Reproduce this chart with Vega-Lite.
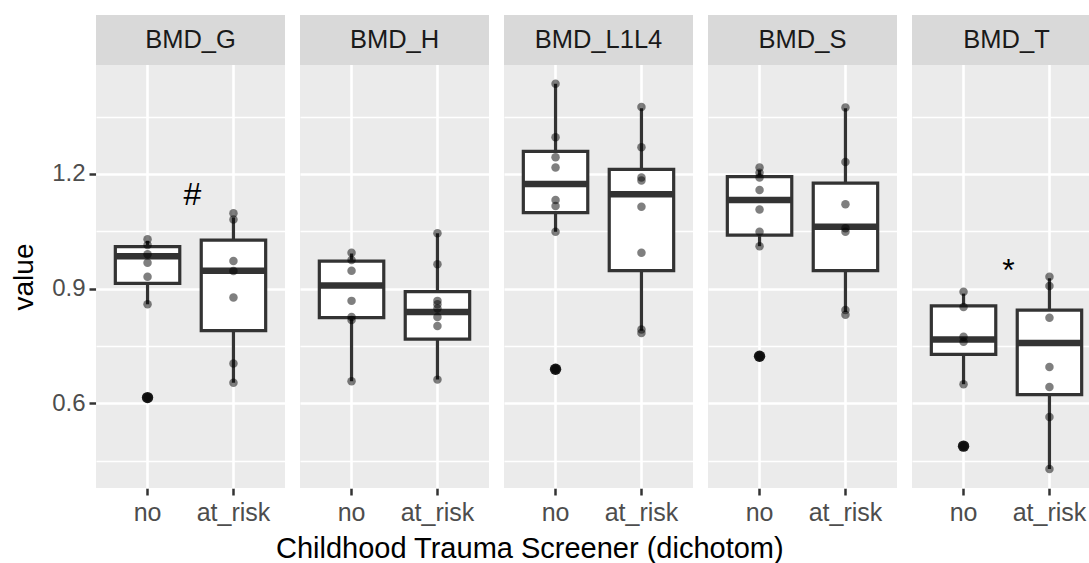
{
  "$schema": "https://vega.github.io/schema/vega-lite/v6.json",
  "padding": {"left": 10, "top": 15, "right": 0, "bottom": 2},
  "title": {"text": "Childhood Trauma Screener (dichotom)", "orient": "bottom", "anchor": "middle", "fontSize": 29, "fontWeight": "normal", "color": "black", "font": "Liberation Sans", "offset": 10, "dx": -26},
  "data": {"values": [
    {"kind": "strip", "panel": "BMD_G"}, {"kind": "strip", "panel": "BMD_H"}, {"kind": "strip", "panel": "BMD_L1L4"}, {"kind": "strip", "panel": "BMD_S"}, {"kind": "strip", "panel": "BMD_T"},
    {"kind": "box", "panel": "BMD_G", "group": "no", "lo": 0.859, "q1": 0.914, "med": 0.985, "q3": 1.010, "hi": 1.025},
    {"kind": "box", "panel": "BMD_G", "group": "at_risk", "lo": 0.654, "q1": 0.790, "med": 0.947, "q3": 1.027, "hi": 1.086},
    {"kind": "box", "panel": "BMD_H", "group": "no", "lo": 0.658, "q1": 0.824, "med": 0.908, "q3": 0.972, "hi": 0.992},
    {"kind": "box", "panel": "BMD_H", "group": "at_risk", "lo": 0.662, "q1": 0.768, "med": 0.839, "q3": 0.892, "hi": 1.045},
    {"kind": "box", "panel": "BMD_L1L4", "group": "no", "lo": 1.049, "q1": 1.099, "med": 1.174, "q3": 1.259, "hi": 1.436},
    {"kind": "box", "panel": "BMD_L1L4", "group": "at_risk", "lo": 0.790, "q1": 0.947, "med": 1.147, "q3": 1.212, "hi": 1.372},
    {"kind": "box", "panel": "BMD_S", "group": "no", "lo": 1.011, "q1": 1.040, "med": 1.132, "q3": 1.193, "hi": 1.210},
    {"kind": "box", "panel": "BMD_S", "group": "at_risk", "lo": 0.839, "q1": 0.947, "med": 1.062, "q3": 1.176, "hi": 1.372},
    {"kind": "box", "panel": "BMD_T", "group": "no", "lo": 0.650, "q1": 0.728, "med": 0.767, "q3": 0.855, "hi": 0.887},
    {"kind": "box", "panel": "BMD_T", "group": "at_risk", "lo": 0.428, "q1": 0.623, "med": 0.758, "q3": 0.844, "hi": 0.927},
    {"kind": "out", "panel": "BMD_G", "group": "no", "value": 0.615},
    {"kind": "out", "panel": "BMD_L1L4", "group": "no", "value": 0.689},
    {"kind": "out", "panel": "BMD_S", "group": "no", "value": 0.723},
    {"kind": "out", "panel": "BMD_T", "group": "no", "value": 0.488},
    {"kind": "pt", "panel": "BMD_G", "group": "no", "value": 1.029},
    {"kind": "pt", "panel": "BMD_G", "group": "no", "value": 1.014},
    {"kind": "pt", "panel": "BMD_G", "group": "no", "value": 0.990},
    {"kind": "pt", "panel": "BMD_G", "group": "no", "value": 0.968},
    {"kind": "pt", "panel": "BMD_G", "group": "no", "value": 0.931},
    {"kind": "pt", "panel": "BMD_G", "group": "no", "value": 0.859},
    {"kind": "pt", "panel": "BMD_G", "group": "at_risk", "value": 1.097},
    {"kind": "pt", "panel": "BMD_G", "group": "at_risk", "value": 1.081},
    {"kind": "pt", "panel": "BMD_G", "group": "at_risk", "value": 0.972},
    {"kind": "pt", "panel": "BMD_G", "group": "at_risk", "value": 0.946},
    {"kind": "pt", "panel": "BMD_G", "group": "at_risk", "value": 0.877},
    {"kind": "pt", "panel": "BMD_G", "group": "at_risk", "value": 0.704},
    {"kind": "pt", "panel": "BMD_G", "group": "at_risk", "value": 0.654},
    {"kind": "pt", "panel": "BMD_H", "group": "no", "value": 0.994},
    {"kind": "pt", "panel": "BMD_H", "group": "no", "value": 0.975},
    {"kind": "pt", "panel": "BMD_H", "group": "no", "value": 0.947},
    {"kind": "pt", "panel": "BMD_H", "group": "no", "value": 0.868},
    {"kind": "pt", "panel": "BMD_H", "group": "no", "value": 0.826},
    {"kind": "pt", "panel": "BMD_H", "group": "no", "value": 0.818},
    {"kind": "pt", "panel": "BMD_H", "group": "no", "value": 0.658},
    {"kind": "pt", "panel": "BMD_H", "group": "at_risk", "value": 1.045},
    {"kind": "pt", "panel": "BMD_H", "group": "at_risk", "value": 0.964},
    {"kind": "pt", "panel": "BMD_H", "group": "at_risk", "value": 0.868},
    {"kind": "pt", "panel": "BMD_H", "group": "at_risk", "value": 0.859},
    {"kind": "pt", "panel": "BMD_H", "group": "at_risk", "value": 0.848},
    {"kind": "pt", "panel": "BMD_H", "group": "at_risk", "value": 0.826},
    {"kind": "pt", "panel": "BMD_H", "group": "at_risk", "value": 0.802},
    {"kind": "pt", "panel": "BMD_H", "group": "at_risk", "value": 0.662},
    {"kind": "pt", "panel": "BMD_L1L4", "group": "no", "value": 1.436},
    {"kind": "pt", "panel": "BMD_L1L4", "group": "no", "value": 1.296},
    {"kind": "pt", "panel": "BMD_L1L4", "group": "no", "value": 1.244},
    {"kind": "pt", "panel": "BMD_L1L4", "group": "no", "value": 1.217},
    {"kind": "pt", "panel": "BMD_L1L4", "group": "no", "value": 1.132},
    {"kind": "pt", "panel": "BMD_L1L4", "group": "no", "value": 1.116},
    {"kind": "pt", "panel": "BMD_L1L4", "group": "no", "value": 1.049},
    {"kind": "pt", "panel": "BMD_L1L4", "group": "at_risk", "value": 1.375},
    {"kind": "pt", "panel": "BMD_L1L4", "group": "at_risk", "value": 1.270},
    {"kind": "pt", "panel": "BMD_L1L4", "group": "at_risk", "value": 1.191},
    {"kind": "pt", "panel": "BMD_L1L4", "group": "at_risk", "value": 1.183},
    {"kind": "pt", "panel": "BMD_L1L4", "group": "at_risk", "value": 1.114},
    {"kind": "pt", "panel": "BMD_L1L4", "group": "at_risk", "value": 0.994},
    {"kind": "pt", "panel": "BMD_L1L4", "group": "at_risk", "value": 0.793},
    {"kind": "pt", "panel": "BMD_L1L4", "group": "at_risk", "value": 0.784},
    {"kind": "pt", "panel": "BMD_S", "group": "no", "value": 1.217},
    {"kind": "pt", "panel": "BMD_S", "group": "no", "value": 1.203},
    {"kind": "pt", "panel": "BMD_S", "group": "no", "value": 1.191},
    {"kind": "pt", "panel": "BMD_S", "group": "no", "value": 1.158},
    {"kind": "pt", "panel": "BMD_S", "group": "no", "value": 1.107},
    {"kind": "pt", "panel": "BMD_S", "group": "no", "value": 1.049},
    {"kind": "pt", "panel": "BMD_S", "group": "no", "value": 1.011},
    {"kind": "pt", "panel": "BMD_S", "group": "at_risk", "value": 1.374},
    {"kind": "pt", "panel": "BMD_S", "group": "at_risk", "value": 1.231},
    {"kind": "pt", "panel": "BMD_S", "group": "at_risk", "value": 1.121},
    {"kind": "pt", "panel": "BMD_S", "group": "at_risk", "value": 1.058},
    {"kind": "pt", "panel": "BMD_S", "group": "at_risk", "value": 1.049},
    {"kind": "pt", "panel": "BMD_S", "group": "at_risk", "value": 0.844},
    {"kind": "pt", "panel": "BMD_S", "group": "at_risk", "value": 0.832},
    {"kind": "pt", "panel": "BMD_T", "group": "no", "value": 0.892},
    {"kind": "pt", "panel": "BMD_T", "group": "no", "value": 0.852},
    {"kind": "pt", "panel": "BMD_T", "group": "no", "value": 0.774},
    {"kind": "pt", "panel": "BMD_T", "group": "no", "value": 0.761},
    {"kind": "pt", "panel": "BMD_T", "group": "no", "value": 0.650},
    {"kind": "pt", "panel": "BMD_T", "group": "at_risk", "value": 0.931},
    {"kind": "pt", "panel": "BMD_T", "group": "at_risk", "value": 0.907},
    {"kind": "pt", "panel": "BMD_T", "group": "at_risk", "value": 0.824},
    {"kind": "pt", "panel": "BMD_T", "group": "at_risk", "value": 0.695},
    {"kind": "pt", "panel": "BMD_T", "group": "at_risk", "value": 0.643},
    {"kind": "pt", "panel": "BMD_T", "group": "at_risk", "value": 0.564},
    {"kind": "pt", "panel": "BMD_T", "group": "at_risk", "value": 0.428},
    {"kind": "ann", "panel": "BMD_G", "group": "at_risk", "value": 1.145, "label": "#"},
    {"kind": "ann", "panel": "BMD_T", "group": "at_risk", "value": 0.945, "label": "*"}
  ]},
  "facet": {"column": {"field": "panel", "type": "nominal", "sort": ["BMD_G", "BMD_H", "BMD_L1L4", "BMD_S", "BMD_T"], "header": null, "title": null}},
  "spacing": 15,
  "spec": {
    "width": 189,
    "height": 473,
    "layer": [
      {
        "transform": [{"filter": "datum.kind == 'box'"}],
        "mark": {"type": "rule", "color": "#333333", "strokeWidth": 3.2},
        "encoding": {
          "x": {"field": "group", "type": "nominal", "sort": ["no", "at_risk"], "title": null, "axis": {"grid": true, "bandPosition": 0.5, "labelAngle": 0}},
          "y": {"field": "lo", "type": "quantitative", "title": "value", "scale": {"domain": [0.3785, 1.6158], "nice": false, "zero": false},
                "axis": {"values": [0.45, 0.6, 0.75, 0.9, 1.05, 1.2, 1.35],
                         "labelExpr": "round(datum.value*100) % 30 == 0 ? format(datum.value, '.1f') : ''",
                         "tickOpacity": {"condition": {"test": "round(datum.value*100) % 30 == 0", "value": 1}, "value": 0},
                         "gridWidth": {"condition": {"test": "round(datum.value*100) % 30 == 0", "value": 2.6}, "value": 1.3},
                         "titleY": 261.5}},
          "y2": {"field": "hi"}
        }
      },
      {
        "transform": [{"filter": "datum.kind == 'box'"}],
        "mark": {"type": "bar", "fill": "white", "stroke": "#333333", "strokeWidth": 3.2},
        "encoding": {
          "x": {"field": "group", "type": "nominal", "sort": ["no", "at_risk"], "title": null},
          "y": {"field": "q1", "type": "quantitative", "title": "value", "scale": {"domain": [0.3785, 1.6158], "nice": false, "zero": false}},
          "y2": {"field": "q3"}
        }
      },
      {
        "transform": [{"filter": "datum.kind == 'box'"}],
        "mark": {"type": "tick", "orient": "horizontal", "color": "#333333", "thickness": 6.5, "size": 64, "opacity": 1},
        "encoding": {
          "x": {"field": "group", "type": "nominal", "sort": ["no", "at_risk"], "title": null},
          "y": {"field": "med", "type": "quantitative", "title": "value", "scale": {"domain": [0.3785, 1.6158], "nice": false, "zero": false}}
        }
      },
      {
        "transform": [{"filter": "datum.kind == 'out'"}],
        "mark": {"type": "circle", "size": 130, "color": "#1a1a1a", "opacity": 1},
        "encoding": {
          "x": {"field": "group", "type": "nominal", "sort": ["no", "at_risk"], "title": null},
          "y": {"field": "value", "type": "quantitative", "title": "value", "scale": {"domain": [0.3785, 1.6158], "nice": false, "zero": false}}
        }
      },
      {
        "transform": [{"filter": "datum.kind == 'pt' || datum.kind == 'out'"}],
        "mark": {"type": "circle", "size": 72, "color": "black", "opacity": 0.5},
        "encoding": {
          "x": {"field": "group", "type": "nominal", "sort": ["no", "at_risk"], "title": null},
          "y": {"field": "value", "type": "quantitative", "title": "value", "scale": {"domain": [0.3785, 1.6158], "nice": false, "zero": false}}
        }
      },
      {
        "transform": [{"filter": "datum.kind == 'ann'"}],
        "mark": {"type": "text", "fontSize": 32, "color": "black", "dx": -41, "baseline": "middle", "align": "center"},
        "encoding": {
          "x": {"field": "group", "type": "nominal", "sort": ["no", "at_risk"], "title": null},
          "y": {"field": "value", "type": "quantitative", "title": "value", "scale": {"domain": [0.3785, 1.6158], "nice": false, "zero": false}},
          "text": {"field": "label"}
        }
      },
      {
        "transform": [{"filter": "datum.kind == 'strip'"}],
        "mark": {"type": "rect", "fill": "#D9D9D9"},
        "encoding": {
          "y": {"datum": 1.4852, "type": "quantitative", "title": "value", "scale": {"domain": [0.3785, 1.6158], "nice": false, "zero": false}},
          "y2": {"datum": 1.6158}
        }
      },
      {
        "transform": [{"filter": "datum.kind == 'strip'"}],
        "mark": {"type": "text", "fontSize": 25.5, "color": "#1A1A1A", "baseline": "middle", "align": "center"},
        "encoding": {
          "y": {"datum": 1.5505, "type": "quantitative", "title": "value", "scale": {"domain": [0.3785, 1.6158], "nice": false, "zero": false}},
          "text": {"field": "panel"}
        }
      }
    ]
  },
  "config": {
    "font": "Liberation Sans",
    "view": {"fill": "#EBEBEB", "stroke": null},
    "scale": {"bandPaddingInner": 0.25, "bandPaddingOuter": 0.225},
    "axisX": {"labelFontSize": 25, "labelColor": "#4D4D4D", "tickSize": 7, "tickWidth": 2.5, "tickColor": "#333333", "domain": false, "gridColor": "white", "gridWidth": 2.6, "labelPadding": 5},
    "axisY": {"labelFontSize": 24, "labelColor": "#4D4D4D", "tickSize": 7, "tickWidth": 2.5, "tickColor": "#333333", "domain": false, "gridColor": "white", "labelPadding": 4, "titleFontSize": 28, "titleFontWeight": "normal", "titleColor": "black", "titlePadding": 13}
  }
}
